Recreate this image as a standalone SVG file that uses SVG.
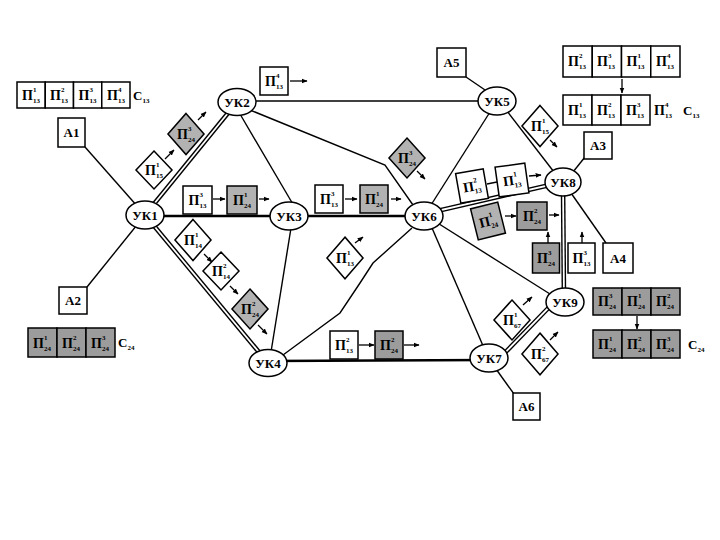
<svg xmlns="http://www.w3.org/2000/svg" width="720" height="540" viewBox="0 0 720 540">
<defs>
<marker id="ah" viewBox="0 0 10 10" refX="9" refY="5" markerWidth="6" markerHeight="6" markerUnits="userSpaceOnUse" orient="auto"><path d="M0,1 L10,5 L0,9 Z" fill="#000"/></marker>
<polygon id="dia" points="0,-19 18,0 0,19 -18,0"/>
</defs>
<style>
.n{fill:#fff;stroke:#000;stroke-width:1.5}
.g{fill:#b2b2b2;stroke:#000;stroke-width:1.5}
.gd{fill:#9c9c9c;stroke:#000;stroke-width:1.5}
.l{stroke:#000;stroke-width:1.4;fill:none}
.t{stroke:#000;stroke-width:2.6;fill:none}
.dbo{stroke:#000;stroke-width:4.6;fill:none}
.dbi{stroke:#fff;stroke-width:1.8;fill:none}
.a{stroke:#000;stroke-width:1.3;fill:none;marker-end:url(#ah)}
text{font-family:"Liberation Serif","DejaVu Serif",serif;font-weight:bold;fill:#000}
.p{font-size:14px}
.s{font-size:7px}
.uk{font-size:13px;text-anchor:middle}
.c{font-size:13px}
.cs{font-size:7px}
</style>
<rect width="720" height="540" fill="#fff"/>

<g id="connectors">
<line class="l" x1="85" y1="147" x2="145" y2="215"/>
<line class="l" x1="87" y1="287" x2="145" y2="215"/>
<path class="dbo" d="M145,215 L237,102"/><path class="dbi" d="M145,215 L237,102"/>
<line class="t" x1="145" y1="216" x2="289" y2="216"/>
<path class="dbo" d="M145,215 L268,363"/><path class="dbi" d="M145,215 L268,363"/>
<line class="l" x1="240" y1="114" x2="294" y2="206"/>
<line class="l" x1="237" y1="101" x2="497" y2="101"/>
<polyline class="l" points="250,110 385,165 413,205"/>
<line class="l" x1="291" y1="228" x2="271" y2="352"/>
<line class="t" x1="289" y1="216" x2="424" y2="216"/>
<polyline class="l" points="283,355 340,313 360,283 373,263 412,228"/>
<line class="t" x1="268" y1="361" x2="489" y2="360"/>
<line class="l" x1="466" y1="77" x2="488" y2="92"/>
<line class="l" x1="490" y1="112" x2="431" y2="205"/>
<line class="l" x1="507" y1="111" x2="554" y2="172"/>
<line class="l" x1="585" y1="157" x2="573" y2="172"/>
<line class="l" x1="606" y1="243" x2="571" y2="193"/>
<path class="dbo" d="M424,214 L563,182"/><path class="dbi" d="M424,214 L563,182"/>
<path class="dbo" d="M563,182 L564,302"/><path class="dbi" d="M563,182 L564,302"/>
<line class="l" x1="436" y1="222" x2="550" y2="294"/>
<line class="l" x1="432" y1="228" x2="484" y2="348"/>
<path class="dbo" d="M496,362 L558,298"/><path class="dbi" d="M496,362 L558,298"/>
<line class="l" x1="496" y1="369" x2="514" y2="394"/>
</g>

<g id="packet-arrows">
<line class="a" x1="290" y1="81" x2="307" y2="81"/>
<line class="a" x1="165" y1="159" x2="174" y2="150"/>
<line class="a" x1="198" y1="120" x2="206" y2="112"/>
<line class="a" x1="417" y1="171" x2="425" y2="179"/>
<line class="a" x1="550" y1="140" x2="557" y2="147"/>
<line class="a" x1="355" y1="243" x2="363" y2="237"/>
<line class="a" x1="204" y1="254" x2="212" y2="262"/>
<line class="a" x1="230" y1="286" x2="238" y2="294"/>
<line class="a" x1="258" y1="325" x2="267" y2="334"/>
<line class="a" x1="523" y1="305" x2="532" y2="297"/>
<line class="a" x1="550" y1="340" x2="558" y2="332"/>
<line class="a" x1="213" y1="199" x2="225" y2="199"/>
<line class="a" x1="259" y1="199" x2="269" y2="199"/>
<line class="a" x1="345" y1="199" x2="357" y2="199"/>
<line class="a" x1="391" y1="199" x2="401" y2="199"/>
<line class="a" x1="359" y1="345" x2="374" y2="345"/>
<line class="a" x1="404" y1="345" x2="419" y2="345"/>
<line class="l" x1="487" y1="184" x2="497" y2="182"/>
<line class="a" x1="529" y1="176" x2="541" y2="175"/>
<line class="a" x1="505" y1="216" x2="516" y2="216"/>
<line class="a" x1="549" y1="215" x2="559" y2="215"/>
<line class="a" x1="548" y1="243" x2="548" y2="232"/>
<line class="a" x1="582" y1="243" x2="582" y2="232"/>
<line class="a" x1="622" y1="79" x2="622" y2="93"/>
<line class="a" x1="637" y1="316" x2="637" y2="329"/>
</g>

<g id="uk1" transform="translate(145,215)"><ellipse class="n" rx="19" ry="14"/><text class="uk" y="5">УК1</text></g>
<g id="uk2" transform="translate(237,102)"><ellipse class="n" rx="19" ry="13.5"/><text class="uk" y="5">УК2</text></g>
<g id="uk3" transform="translate(289,216)"><ellipse class="n" rx="19" ry="14"/><text class="uk" y="5">УК3</text></g>
<g id="uk4" transform="translate(268,363)"><ellipse class="n" rx="19" ry="13.5"/><text class="uk" y="5">УК4</text></g>
<g id="uk5" transform="translate(497,101)"><ellipse class="n" rx="19" ry="14"/><text class="uk" y="5">УК5</text></g>
<g id="uk6" transform="translate(424,216)"><ellipse class="n" rx="19" ry="14"/><text class="uk" y="5">УК6</text></g>
<g id="uk7" transform="translate(489,358)"><ellipse class="n" rx="19" ry="14"/><text class="uk" y="5">УК7</text></g>
<g id="uk8" transform="translate(563,182)"><ellipse class="n" rx="18" ry="14"/><text class="uk" y="5">УК8</text></g>
<g id="uk9" transform="translate(565,302)"><ellipse class="n" rx="19" ry="14"/><text class="uk" y="5">УК9</text></g>

<g id="a1" transform="translate(58,118)"><rect class="n" width="27" height="29"/><text class="uk" x="13.5" y="19">А1</text></g>
<g id="a2" transform="translate(59,287)"><rect class="n" width="28" height="27"/><text class="uk" x="14" y="18">А2</text></g>
<g id="a3" transform="translate(584,132)"><rect class="n" width="28" height="27"/><text class="uk" x="14" y="18">А3</text></g>
<g id="a4" transform="translate(603,243)"><rect class="n" width="30" height="30"/><text class="uk" x="15" y="19.5">А4</text></g>
<g id="a5" transform="translate(437,48)"><rect class="n" width="29" height="29"/><text class="uk" x="14.5" y="19">А5</text></g>
<g id="a6" transform="translate(513,393)"><rect class="n" width="27" height="27"/><text class="uk" x="13.5" y="18">А6</text></g>

<g id="msg-c13-source">
<rect class="n" x="17" y="82" width="28.25" height="26"/><rect class="n" x="45.25" y="82" width="28.25" height="26"/><rect class="n" x="73.5" y="82" width="28.25" height="26"/><rect class="n" x="101.75" y="82" width="28.25" height="26"/>
<text class="p" x="22" y="100">Π<tspan class="s" x="33" y="92">1</tspan><tspan class="s" x="33" y="103">13</tspan></text>
<text class="p" x="50" y="100">Π<tspan class="s" x="61" y="92">2</tspan><tspan class="s" x="61" y="103">13</tspan></text>
<text class="p" x="78.5" y="100">Π<tspan class="s" x="89.5" y="92">3</tspan><tspan class="s" x="89.5" y="103">13</tspan></text>
<text class="p" x="107" y="100">Π<tspan class="s" x="118" y="92">4</tspan><tspan class="s" x="118" y="103">13</tspan></text>
<text class="c" x="133" y="100">С<tspan class="cs" y="103">13</tspan></text>
</g>

<g id="msg-c13-dest">
<rect class="n" x="563" y="46" width="29.25" height="31"/><rect class="n" x="592.25" y="46" width="29.25" height="31"/><rect class="n" x="621.5" y="46" width="29.25" height="31"/><rect class="n" x="650.75" y="46" width="29.25" height="31"/>
<text class="p" x="568" y="66">Π<tspan class="s" x="579" y="58">2</tspan><tspan class="s" x="579" y="69">13</tspan></text>
<text class="p" x="597" y="66">Π<tspan class="s" x="608" y="58">3</tspan><tspan class="s" x="608" y="69">13</tspan></text>
<text class="p" x="626.5" y="66">Π<tspan class="s" x="637.5" y="58">1</tspan><tspan class="s" x="637.5" y="69">13</tspan></text>
<text class="p" x="656" y="66">Π<tspan class="s" x="667" y="58">4</tspan><tspan class="s" x="667" y="69">13</tspan></text>
<rect class="n" x="563" y="95" width="29" height="30"/><rect class="n" x="592" y="95" width="29" height="30"/><rect class="n" x="621" y="95" width="29" height="30"/>
<text class="p" x="568" y="115">Π<tspan class="s" x="579" y="107">1</tspan><tspan class="s" x="579" y="118">13</tspan></text>
<text class="p" x="597" y="115">Π<tspan class="s" x="608" y="107">2</tspan><tspan class="s" x="608" y="118">13</tspan></text>
<text class="p" x="626" y="115">Π<tspan class="s" x="637" y="107">3</tspan><tspan class="s" x="637" y="118">13</tspan></text>
<text class="p" x="654" y="115">Π<tspan class="s" x="665" y="107">4</tspan><tspan class="s" x="665" y="118">13</tspan></text>
<text class="c" x="683" y="115">С<tspan class="cs" y="118">13</tspan></text>
</g>

<g id="msg-c24-source">
<rect class="gd" x="28" y="328" width="29" height="29"/><rect class="gd" x="57" y="328" width="29" height="29"/><rect class="gd" x="86" y="328" width="29" height="29"/>
<text class="p" x="33" y="348">Π<tspan class="s" x="44" y="340">1</tspan><tspan class="s" x="44" y="351">24</tspan></text>
<text class="p" x="62" y="348">Π<tspan class="s" x="73" y="340">2</tspan><tspan class="s" x="73" y="351">24</tspan></text>
<text class="p" x="91" y="348">Π<tspan class="s" x="102" y="340">3</tspan><tspan class="s" x="102" y="351">24</tspan></text>
<text class="c" x="118" y="347">С<tspan class="cs" y="350">24</tspan></text>
</g>

<g id="msg-c24-dest">
<rect class="gd" x="593" y="288" width="29" height="27"/><rect class="gd" x="622" y="288" width="29" height="27"/><rect class="gd" x="651" y="288" width="29" height="27"/>
<text class="p" x="598" y="306">Π<tspan class="s" x="609" y="298">3</tspan><tspan class="s" x="609" y="309">24</tspan></text>
<text class="p" x="627" y="306">Π<tspan class="s" x="638" y="298">1</tspan><tspan class="s" x="638" y="309">24</tspan></text>
<text class="p" x="656" y="306">Π<tspan class="s" x="667" y="298">2</tspan><tspan class="s" x="667" y="309">24</tspan></text>
<rect class="gd" x="593" y="330" width="29" height="28"/><rect class="gd" x="622" y="330" width="29" height="28"/><rect class="gd" x="651" y="330" width="29" height="28"/>
<text class="p" x="598" y="349">Π<tspan class="s" x="609" y="341">1</tspan><tspan class="s" x="609" y="352">24</tspan></text>
<text class="p" x="627" y="349">Π<tspan class="s" x="638" y="341">2</tspan><tspan class="s" x="638" y="352">24</tspan></text>
<text class="p" x="656" y="349">Π<tspan class="s" x="667" y="341">3</tspan><tspan class="s" x="667" y="352">24</tspan></text>
<text class="c" x="688" y="349">С<tspan class="cs" y="352">24</tspan></text>
</g>

<g id="p-uk2-out" transform="translate(274,81)"><rect class="n" x="-14" y="-14" width="28" height="28"/><text class="p" x="-9" y="5">Π<tspan class="s" x="2" y="-3">4</tspan><tspan class="s" x="2" y="8">13</tspan></text></g>

<g id="d-15a" transform="translate(154,170)"><use href="#dia" class="n"/><text class="p" x="-9" y="5">Π<tspan class="s" x="2" y="-3">1</tspan><tspan class="s" x="2" y="8">15</tspan></text></g>
<g id="d-24a" transform="translate(186,134)"><use href="#dia" class="g" transform="scale(1,1.08)"/><text class="p" x="-9" y="5">Π<tspan class="s" x="2" y="-3">3</tspan><tspan class="s" x="2" y="8">24</tspan></text></g>
<g id="d-24b" transform="translate(407,158)"><use href="#dia" class="g" transform="scale(1,1.05)"/><text class="p" x="-9" y="5">Π<tspan class="s" x="2" y="-3">3</tspan><tspan class="s" x="2" y="8">24</tspan></text></g>
<g id="d-15b" transform="translate(540,126)"><use href="#dia" class="n" transform="scale(1,1.08)"/><text class="p" x="-9" y="5">Π<tspan class="s" x="2" y="-3">1</tspan><tspan class="s" x="2" y="8">15</tspan></text></g>
<g id="d-13" transform="translate(345,258)"><use href="#dia" class="n" transform="scale(1,1.1)"/><text class="p" x="-9" y="5">Π<tspan class="s" x="2" y="-3">1</tspan><tspan class="s" x="2" y="8">13</tspan></text></g>
<g id="d-14a" transform="translate(193,240)"><use href="#dia" class="n" transform="scale(1,1.08)"/><text class="p" x="-9" y="5">Π<tspan class="s" x="2" y="-3">1</tspan><tspan class="s" x="2" y="8">14</tspan></text></g>
<g id="d-14b" transform="translate(221,271)"><use href="#dia" class="n"/><text class="p" x="-9" y="5">Π<tspan class="s" x="2" y="-3">2</tspan><tspan class="s" x="2" y="8">14</tspan></text></g>
<g id="d-24c" transform="translate(250,309)"><use href="#dia" class="g" transform="scale(1,1.05)"/><text class="p" x="-9" y="5">Π<tspan class="s" x="2" y="-3">2</tspan><tspan class="s" x="2" y="8">24</tspan></text></g>
<g id="d-67a" transform="translate(512,320)"><use href="#dia" class="n" transform="scale(1,1.05)"/><text class="p" x="-9" y="5">Π<tspan class="s" x="2" y="-3">1</tspan><tspan class="s" x="2" y="8">67</tspan></text></g>
<g id="d-67b" transform="translate(540,354)"><use href="#dia" class="n" transform="scale(1,1.1)"/><text class="p" x="-9" y="5">Π<tspan class="s" x="2" y="-3">2</tspan><tspan class="s" x="2" y="8">67</tspan></text></g>

<g id="p13-13" transform="translate(197.5,200)"><rect class="n" x="-14.5" y="-14" width="29" height="28"/><text class="p" x="-9" y="5">Π<tspan class="s" x="2" y="-3">3</tspan><tspan class="s" x="2" y="8">13</tspan></text></g>
<g id="p13-24" transform="translate(242,200)"><rect class="g" x="-15" y="-14" width="30" height="28"/><text class="p" x="-9" y="5">Π<tspan class="s" x="2" y="-3">1</tspan><tspan class="s" x="2" y="8">24</tspan></text></g>
<g id="p36-13" transform="translate(329,199)"><rect class="n" x="-14" y="-14" width="28" height="28"/><text class="p" x="-9" y="5">Π<tspan class="s" x="2" y="-3">3</tspan><tspan class="s" x="2" y="8">13</tspan></text></g>
<g id="p36-24" transform="translate(374,199)"><rect class="g" x="-14" y="-14" width="28" height="28"/><text class="p" x="-9" y="5">Π<tspan class="s" x="2" y="-3">1</tspan><tspan class="s" x="2" y="8">24</tspan></text></g>
<g id="p47-13" transform="translate(344,345)"><rect class="n" x="-14" y="-14" width="28" height="28"/><text class="p" x="-9" y="5">Π<tspan class="s" x="2" y="-3">2</tspan><tspan class="s" x="2" y="8">13</tspan></text></g>
<g id="p47-24" transform="translate(389,345)"><rect class="gd" x="-14" y="-14" width="28" height="28"/><text class="p" x="-9" y="5">Π<tspan class="s" x="2" y="-3">2</tspan><tspan class="s" x="2" y="8">24</tspan></text></g>

<g id="p68-13b" transform="translate(472,186) rotate(-10)"><rect class="n" x="-14" y="-15" width="28" height="30"/><text class="p" x="-9" y="5">Π<tspan class="s" x="2" y="-3">2</tspan><tspan class="s" x="2" y="8">13</tspan></text></g>
<g id="p68-13a" transform="translate(512,180) rotate(-8)"><rect class="n" x="-15" y="-15" width="30" height="30"/><text class="p" x="-9" y="5">Π<tspan class="s" x="2" y="-3">1</tspan><tspan class="s" x="2" y="8">13</tspan></text></g>
<g id="p68-24a" transform="translate(488,221) rotate(-14)"><rect class="g" x="-14" y="-16" width="28" height="32"/><text class="p" x="-9" y="5">Π<tspan class="s" x="2" y="-3">1</tspan><tspan class="s" x="2" y="8">24</tspan></text></g>
<g id="p68-24b" transform="translate(532,216)"><rect class="gd" x="-15" y="-14" width="30" height="28"/><text class="p" x="-9" y="5">Π<tspan class="s" x="2" y="-3">2</tspan><tspan class="s" x="2" y="8">24</tspan></text></g>
<g id="p8-24" transform="translate(546,258)"><rect class="gd" x="-13.5" y="-15" width="27" height="30"/><text class="p" x="-9" y="5">Π<tspan class="s" x="2" y="-3">3</tspan><tspan class="s" x="2" y="8">24</tspan></text></g>
<g id="p8-13" transform="translate(581.5,258)"><rect class="n" x="-13.5" y="-15" width="27" height="30"/><text class="p" x="-9" y="5">Π<tspan class="s" x="2" y="-3">3</tspan><tspan class="s" x="2" y="8">13</tspan></text></g>
</svg>
